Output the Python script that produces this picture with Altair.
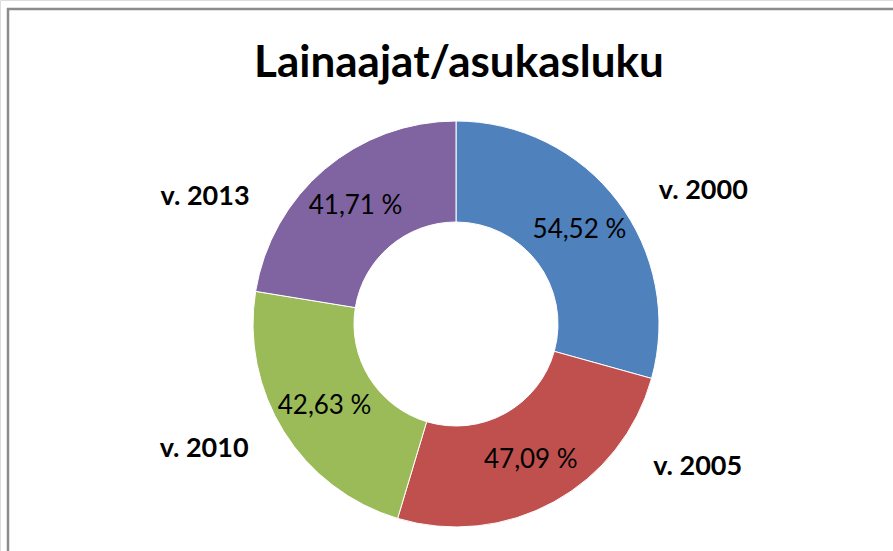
import altair as alt
import pandas as pd

categories = ["v. 2000", "v. 2005", "v. 2010", "v. 2013"]
values = [54.52, 47.09, 42.63, 41.71]
colors = ["#4F81BD", "#C0504D", "#9BBB59", "#8064A2"]
title_text = "Lainaajat/asukasluku"

df = pd.DataFrame({"cat": categories, "value": values, "order": list(range(len(categories)))})

CX, CY = 456, 324
FONT = "Lato"

base = alt.Chart(df).transform_joinaggregate(
    total="sum(value)"
).transform_window(
    cum="sum(value)", sort=[alt.SortField("order")], frame=[None, 0]
).transform_calculate(
    mid="360 * (datum.cum - datum.value / 2) / datum.total",
    pct="replace(format(datum.value, '.2f'), '.', ',') + ' %'",
)

color_scale = alt.Scale(domain=categories, range=colors)

arcs = base.mark_arc(outerRadius=203, innerRadius=102, stroke="white", strokeWidth=1).encode(
    theta=alt.Theta("value:Q", stack=True),
    order=alt.Order("order:Q"),
    color=alt.Color("cat:N", scale=color_scale, legend=None),
    x=alt.value(CX),
    y=alt.value(CY),
)

pct_labels = base.mark_text(radius=155, font=FONT, fontSize=26, color="black").encode(
    theta=alt.Theta("mid:Q", scale=alt.Scale(domain=[0, 360], range=[0, 6.283185307])),
    text="pct:N",
    x=alt.value(CX),
    y=alt.value(CY),
)

cat_labels = base.transform_calculate(
    lab="datum.mid < 180 ? 90 + (datum.mid - 90) * 0.6 - 6 : 270 + (datum.mid - 270) * 0.65 - 5.5"
).mark_text(radius=281, font=FONT, fontSize=27, fontWeight="bold", color="black").encode(
    theta=alt.Theta("lab:Q", scale=alt.Scale(domain=[0, 360], range=[0, 6.283185307])),
    text="cat:N",
    x=alt.value(CX),
    y=alt.value(CY),
)

title = alt.Chart(pd.DataFrame({"t": [title_text]})).mark_text(
    font=FONT, fontSize=44, fontWeight="bold", color="black", baseline="alphabetic", align="center"
).encode(text="t:N", x=alt.value(459), y=alt.value(77))

border_left = alt.Chart(pd.DataFrame({"a": [0]})).mark_rule(color="#8c8c8c", strokeWidth=2.5).encode(
    x=alt.value(8), y=alt.value(8), y2=alt.value(560)
)
border_top = alt.Chart(pd.DataFrame({"a": [0]})).mark_rule(color="#8c8c8c", strokeWidth=2.5).encode(
    x=alt.value(7), x2=alt.value(900), y=alt.value(9)
)

chart = alt.layer(border_left, border_top, arcs, pct_labels, cat_labels, title).resolve_scale(
    theta="independent"
).properties(
    width=893, height=551, autosize=alt.AutoSizeParams(type="none"), padding=0
).configure_view(stroke=None).configure(background="white")

chart.save("out.html", embed_options={"renderer": "svg", "actions": False})
